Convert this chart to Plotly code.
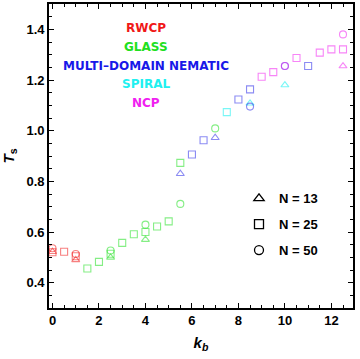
import plotly.graph_objects as go

# ---- data ----
phases = ["RWCP", "GLASS", "MULTI\u2013DOMAIN NEMATIC", "SPIRAL", "NCP"]
phase_text_colors = ["#f01818", "#20e020", "#1818e8", "#20f0f0", "#f020f0"]
phase_marker_colors = ["rgba(240,24,24,0.55)", "rgba(32,224,32,0.55)", "rgba(24,24,232,0.5)",
                       "rgba(32,240,240,0.6)", "rgba(240,32,240,0.55)"]

# N = 13 (triangles)
kb_n13 = [0, 1, 2.5, 4, 5.5, 7, 8.5, 10, 12.5]
ts_n13 = [0.522, 0.490, 0.500, 0.570, 0.830, 0.972, 1.108, 1.180, 1.255]
ph_n13 = [0, 0, 1, 1, 2, 2, 3, 3, 4]

# N = 25 (squares)
kb_n25 = [0, 0.5, 1, 1.5, 2, 2.5, 3, 3.5, 4, 4.5, 5, 5.5, 6, 6.5, 7.5, 8, 8.5,
          9, 9.5, 10.5, 11, 11.5, 12, 12.5]
ts_n25 = [0.520, 0.522, 0.504, 0.456, 0.482, 0.514, 0.557, 0.591, 0.600, 0.622, 0.642, 0.873,
          0.906, 0.962, 1.073, 1.123, 1.163, 1.213, 1.231, 1.287, 1.255, 1.308, 1.321, 1.321]
ph_n25 = [0, 0, 0, 1, 1, 1, 1, 1, 1, 1, 1, 1, 2, 2, 3, 2, 2, 4, 4, 4, 2, 4, 4, 4]

# N = 50 (circles)
kb_n50 = [0, 1, 2.5, 4, 5.5, 7, 8.5, 10, 10, 12.5]
ts_n50 = [0.536, 0.513, 0.527, 0.629, 0.711, 1.009, 1.095, 1.255, 1.255, 1.380]
ph_n50 = [0, 0, 1, 1, 1, 1, 2, 2, 4, 4]

series = [
    ("N = 13", "triangle-up-open", 7, kb_n13, ts_n13, ph_n13),
    ("N = 25", "square-open", 7, kb_n25, ts_n25, ph_n25),
    ("N = 50", "circle-open", 7, kb_n50, ts_n50, ph_n50),
]
legend_symbol_sizes = [9, 9, 9]

fig = go.Figure()

for (name, sym, size, kbs, tss, phs) in series:
    for p in range(len(phases)):
        xs = [k for k, ph in zip(kbs, phs) if ph == p]
        ys = [t for t, ph in zip(tss, phs) if ph == p]
        if not xs:
            continue
        fig.add_trace(go.Scatter(
            x=xs, y=ys, mode="markers", showlegend=False,
            marker=dict(symbol=sym, size=size, color=phase_marker_colors[p],
                        line=dict(width=1.1, color=phase_marker_colors[p])),
        ))

# legend entries (black symbols)
for i, (name, sym, size, kbs, tss, phs) in enumerate(series):
    fig.add_trace(go.Scatter(
        x=[None], y=[None], mode="markers", name=name, legendgroup=name,
        marker=dict(symbol=sym, size=legend_symbol_sizes[i], color="black",
                    line=dict(width=1.3, color="black")),
    ))

# phase labels
label_y = [0.922, 0.860, 0.797, 0.736, 0.673]
for i, ph in enumerate(phases):
    fig.add_annotation(
        text="<b>" + ph + "</b>", x=0.319, y=label_y[i], xref="paper", yref="paper",
        xanchor="center", yanchor="middle", showarrow=False,
        font=dict(family="DejaVu Sans", size=12, color=phase_text_colors[i]),
    )

axis_common = dict(
    showline=True, linecolor="black", linewidth=1.6, mirror="ticks",
    ticks="inside", ticklen=5, tickwidth=1.4, tickcolor="black",
    showgrid=False, zeroline=False,
    tickfont=dict(family="Liberation Sans, Arial", size=13, color="black", weight="bold"),
)

fig.update_xaxes(
    range=[-0.15, 12.93], dtick=2, tick0=0,
    minor=dict(ticks="inside", ticklen=3, tickwidth=1.2, tickcolor="black", dtick=0.5, showgrid=False),
    title=dict(text="<b><i>k</i></b><sub><b><i>b</i></b></sub>", standoff=10,
               font=dict(family="Liberation Sans, Arial", size=15, color="black")),
    **axis_common,
)
fig.update_yaxes(
    range=[0.3, 1.5], dtick=0.2, tick0=0.4, tickformat=".1f",
    minor=dict(ticks="inside", ticklen=3, tickwidth=1.2, tickcolor="black", dtick=0.05, showgrid=False),
    title=dict(text="<b><i>T</i></b><sub><b>s</b></sub>", standoff=8,
               font=dict(family="Liberation Sans, Arial", size=15, color="black")),
    **axis_common,
)

fig.update_layout(
    width=360, height=359,
    margin=dict(l=49, r=7, t=4, b=51, autoexpand=False),
    plot_bgcolor="white", paper_bgcolor="white",
    showlegend=True,
    legend=dict(x=0.625, y=0.41, xanchor="left", yanchor="top",
                bgcolor="rgba(0,0,0,0)", borderwidth=0,
                tracegroupgap=6, itemsizing="trace",
                font=dict(family="Liberation Sans, Arial", size=13, color="black", weight="bold")),
)

fig.write_html("out.html", config={"displayModeBar": False},
               post_script="document.body.style.margin='0';document.body.style.overflow='hidden';")
